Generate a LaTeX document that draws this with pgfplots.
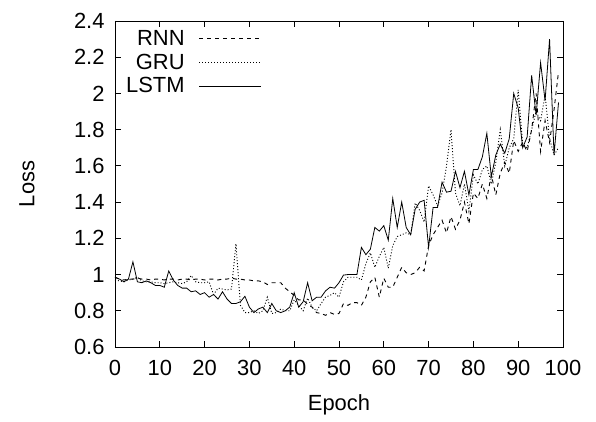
\documentclass[border=0pt]{standalone}
\usepackage{pgfplots}
\pgfplotsset{compat=1.18}
\usepackage{pgfplotstable}
\usepackage{fontspec}
\setmainfont{Liberation Sans}

\pgfplotstableread{
x y
0 0.985
1 0.975
2 0.97
3 0.975
4 0.975
5 0.98
6 0.975
7 0.975
8 0.97
9 0.975
10 0.975
11 0.97
12 0.975
13 0.975
14 0.97
15 0.975
16 0.975
17 0.97
18 0.975
19 0.975
20 0.97
21 0.975
22 0.975
23 0.97
24 0.975
25 0.975
26 0.98
27 0.975
28 0.975
29 0.97
30 0.97
31 0.965
32 0.965
33 0.96
34 0.945
35 0.955
36 0.955
37 0.955
38 0.925
39 0.905
40 0.885
41 0.86
42 0.86
43 0.835
44 0.82
45 0.79
46 0.785
47 0.775
48 0.79
49 0.78
50 0.785
51 0.84
52 0.83
53 0.845
54 0.845
55 0.83
56 0.875
57 0.96
58 0.985
59 0.875
60 0.98
61 0.93
62 0.93
63 0.985
64 1.04
65 1.01
66 1.0
67 1.01
68 1.04
69 1.02
70 1.16
71 1.22
72 1.26
73 1.30
74 1.23
75 1.32
76 1.25
77 1.30
78 1.40
79 1.28
80 1.45
81 1.42
82 1.50
83 1.42
84 1.55
85 1.44
86 1.56
87 1.62
88 1.56
89 1.74
90 1.68
91 1.73
92 1.68
93 1.80
94 2.00
95 1.68
96 1.85
97 1.73
98 1.91
99 2.12
}\rnn

\pgfplotstableread{
x y
0 0.97
1 0.965
2 0.96
3 0.97
4 0.975
5 0.985
6 0.965
7 0.96
8 0.96
9 0.955
10 0.955
11 0.95
12 0.955
13 0.96
14 0.955
15 0.95
16 0.96
17 0.995
18 0.96
19 0.955
20 0.955
21 0.96
22 0.89
23 0.925
24 0.92
25 0.915
26 0.92
27 1.17
28 0.83
29 0.79
30 0.79
31 0.80
32 0.785
33 0.80
34 0.875
35 0.785
36 0.79
37 0.81
38 0.80
39 0.80
40 0.86
41 0.83
42 0.80
43 0.87
44 0.82
45 0.80
46 0.84
47 0.875
48 0.885
49 0.90
50 0.875
51 0.96
52 0.985
53 0.985
54 0.985
55 0.97
56 1.06
57 1.12
58 1.04
59 1.10
60 1.15
61 1.035
62 1.16
63 1.21
64 1.22
65 1.23
66 1.22
67 1.395
68 1.355
69 1.29
70 1.49
71 1.44
72 1.38
73 1.45
74 1.60
75 1.80
76 1.45
77 1.38
78 1.50
79 1.35
80 1.55
81 1.50
82 1.58
83 1.60
84 1.50
85 1.62
86 1.80
87 1.60
88 1.70
89 1.75
90 2.02
91 1.72
92 1.70
93 1.80
94 1.90
95 1.85
96 1.99
97 1.75
98 1.66
99 1.70
}\gru

\pgfplotstableread{
x y
0 0.985
1 0.975
2 0.96
3 0.975
4 1.07
5 0.96
6 0.955
7 0.965
8 0.955
9 0.94
10 0.94
11 0.93
12 1.02
13 0.97
14 0.94
15 0.925
16 0.925
17 0.905
18 0.91
19 0.89
20 0.90
21 0.875
22 0.89
23 0.865
24 0.905
25 0.865
26 0.84
27 0.84
28 0.85
29 0.88
30 0.82
31 0.79
32 0.81
33 0.82
34 0.79
35 0.84
36 0.80
37 0.79
38 0.80
39 0.82
40 0.90
41 0.82
42 0.85
43 0.955
44 0.855
45 0.875
46 0.875
47 0.91
48 0.93
49 0.925
50 0.955
51 0.997
52 1.0
53 1.0
54 1.0
55 1.15
56 1.11
57 1.14
58 1.26
59 1.24
60 1.27
61 1.19
62 1.42
63 1.26
64 1.40
65 1.26
66 1.22
67 1.36
68 1.40
69 1.41
70 1.15
71 1.37
72 1.37
73 1.51
74 1.455
75 1.46
76 1.57
77 1.48
78 1.57
79 1.44
80 1.58
81 1.58
82 1.65
83 1.78
84 1.54
85 1.66
86 1.72
87 1.67
88 1.75
89 2.00
90 1.92
91 1.70
92 1.76
93 2.10
94 1.88
95 2.17
96 1.96
97 2.30
98 1.66
99 1.95
}\lstm

\begin{document}
\begin{tikzpicture}
\useasboundingbox (-115bp,-75bp) rectangle (481bp,347bp);
\begin{axis}[
  scale only axis,
  width=448bp, height=326bp,
  xmin=0, xmax=100, ymin=0.6, ymax=2.4,
  xtick={0,10,...,100},
  ytick={0.6,0.8,1,1.2,1.4,1.6,1.8,2,2.2,2.4},
  yticklabels={0.6,0.8,1,1.2,1.4,1.6,1.8,2,2.2,2.4},
  tick align=inside,
  major tick length=6bp,
  axis line style={line width=0.9bp},
  every tick/.style={black, line width=0.9bp},
  font=\fontsize{22}{26}\selectfont,
  /pgf/number format/assume math mode=true,
  xticklabel style={yshift=-10bp},
  yticklabel style={xshift=-7bp},
  xlabel={Epoch},
  ylabel={Loss},
  xlabel style={at={(rel axis cs:0.5,0)}, anchor=center, yshift=-58bp},
  ylabel style={at={(rel axis cs:0,0.5)}, anchor=center, yshift=88bp},
  legend plot pos=right,
  legend cell align=right,
  legend image code/.code={\draw[#1] (0bp,0bp) -- (62bp,0bp);},
  legend style={at={(rel axis cs:0,1)}, anchor=north west, xshift=7bp, yshift=-6bp,
    draw=none, fill=none, row sep=5bp, column sep=13bp,
    nodes={inner sep=1bp}},
]
\addplot[black, line width=0.9bp, dash pattern=on 4bp off 4bp] table[x=x,y=y] {\rnn};
\addlegendentry{RNN}
\addplot[black, line width=0.9bp, dash pattern=on 1bp off 2bp] table[x=x,y=y] {\gru};
\addlegendentry{GRU}
\addplot[black, line width=0.8bp] table[x=x,y=y] {\lstm};
\addlegendentry{LSTM}
\end{axis}
\end{tikzpicture}
\end{document}
